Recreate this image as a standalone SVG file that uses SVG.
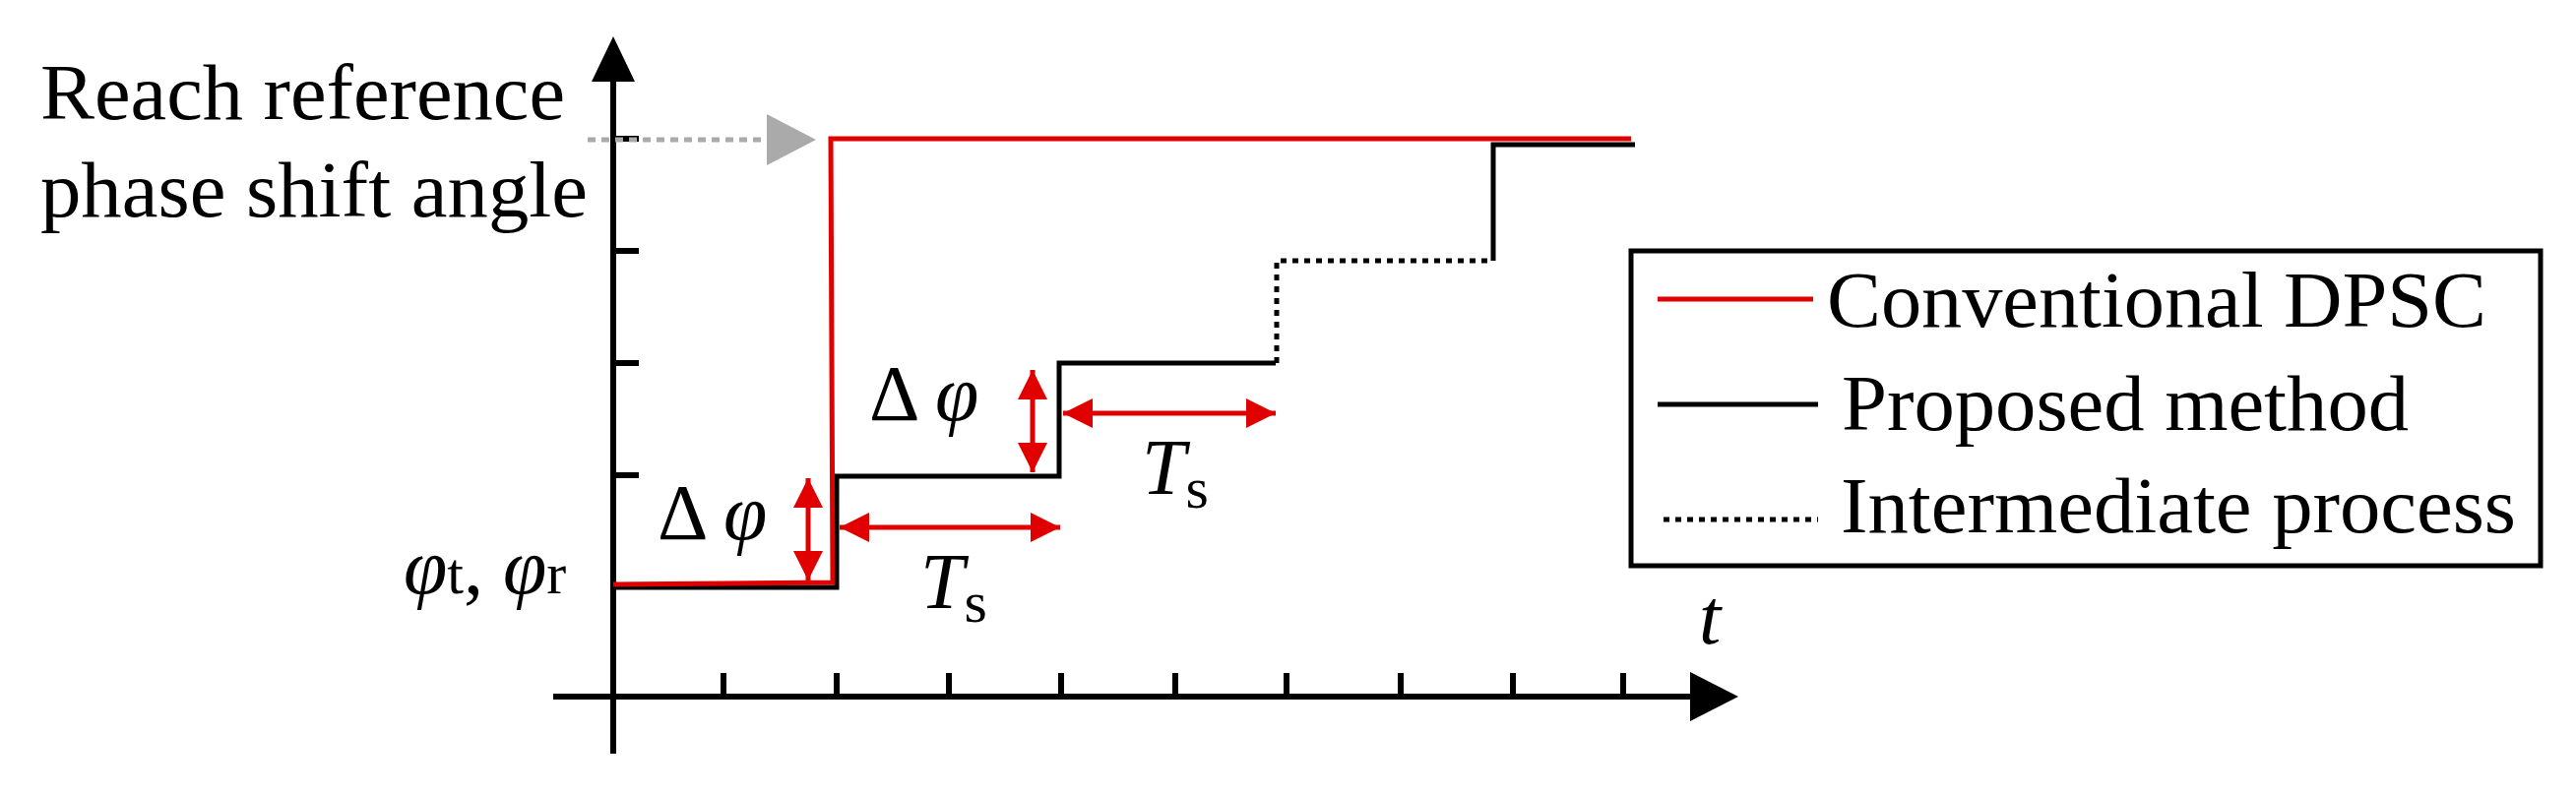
<svg xmlns="http://www.w3.org/2000/svg" width="2617" height="807" viewBox="0 0 2617 807">
<style>
text{font-family:"Liberation Serif","Times New Roman",serif;fill:#000}
.lbl{font-size:80px}
.it{font-style:italic}
.ax{stroke:#000;stroke-width:6;fill:none}
.red{stroke:#e00000;stroke-width:5;fill:none}
.blk{stroke:#000;stroke-width:5;fill:none}
.dot{stroke:#000;stroke-width:5;fill:none;stroke-dasharray:6 6}
</style>
<defs>
<marker id="ra" viewBox="0 0 10 10" refX="10" refY="5" markerWidth="6" markerHeight="6" orient="auto-start-reverse"><path d="M0,0L10,5L0,10z" fill="#e00000"/></marker>
</defs>
<rect width="2617" height="807" fill="#fff"/>
<g id="axes">
<line class="ax" x1="623" y1="766" x2="623" y2="80"/>
<polygon points="623,37 601,83 645,83" fill="#000"/>
<line class="ax" x1="562" y1="708" x2="1720" y2="708"/>
<polygon points="1766,708 1717,683 1717,733" fill="#000"/>
<g class="ax">
<line x1="735" y1="684" x2="735" y2="708"/><line x1="850" y1="684" x2="850" y2="708"/>
<line x1="964" y1="684" x2="964" y2="708"/><line x1="1078" y1="684" x2="1078" y2="708"/>
<line x1="1194" y1="684" x2="1194" y2="708"/><line x1="1307" y1="684" x2="1307" y2="708"/>
<line x1="1423" y1="684" x2="1423" y2="708"/><line x1="1537" y1="684" x2="1537" y2="708"/>
<line x1="1649" y1="684" x2="1649" y2="708"/>
<line x1="623" y1="141" x2="649" y2="141"/><line x1="623" y1="255" x2="649" y2="255"/>
<line x1="623" y1="369" x2="649" y2="369"/><line x1="623" y1="483" x2="649" y2="483"/>
</g>
</g>
<g id="curves">
<polyline class="blk" points="623,597 850,597 850,484 1076,484 1076,369 1296,369"/>
<polyline class="dot" points="1297,369 1297,265 1517,265"/>
<polyline class="blk" points="1517,265 1517,147 1661,147"/>
<polyline class="red" points="623,594 846,592 844,141 1657,141"/>
<line x1="597" y1="142" x2="780" y2="142" stroke="#aaa" stroke-width="5" stroke-dasharray="8 6"/>
<polygon points="829,142 779,116 779,168" fill="#aaa"/>
</g>
<g id="connectors">
<line class="red" stroke-width="3" x1="821" y1="486" x2="821" y2="590" marker-start="url(#ra)" marker-end="url(#ra)"/>
<line class="red" stroke-width="3" x1="853" y1="536" x2="1077" y2="536" marker-start="url(#ra)" marker-end="url(#ra)"/>
<line class="red" stroke-width="3" x1="1049" y1="376" x2="1049" y2="480" marker-start="url(#ra)" marker-end="url(#ra)"/>
<line class="red" stroke-width="3" x1="1080" y1="420" x2="1296" y2="420" marker-start="url(#ra)" marker-end="url(#ra)"/>
</g>
<g id="labels">
<text class="lbl" x="41" y="121" textLength="533" lengthAdjust="spacingAndGlyphs">Reach reference</text>
<text class="lbl" x="41" y="220" textLength="556" lengthAdjust="spacingAndGlyphs">phase shift angle</text>
<text class="lbl" x="410" y="603"><tspan class="it">φ</tspan><tspan font-size="60">t</tspan>, <tspan class="it">φ</tspan><tspan font-size="60">r</tspan></text>
<text class="lbl" x="668" y="548">Δ <tspan class="it">φ</tspan></text>
<text class="lbl" x="883" y="427">Δ <tspan class="it">φ</tspan></text>
<text class="lbl" x="935" y="618" font-size="90"><tspan class="it">T</tspan><tspan font-size="60" dy="14">s</tspan></text>
<text class="lbl" x="1160" y="502" font-size="90"><tspan class="it">T</tspan><tspan font-size="60" dy="14">s</tspan></text>
<text class="lbl it" x="1726" y="654">t</text>
</g>
<g id="legend">
<rect x="1657" y="255" width="924" height="320" fill="none" stroke="#000" stroke-width="5"/>
<line x1="1684" y1="304" x2="1842" y2="304" stroke="#e00000" stroke-width="5"/>
<line x1="1684" y1="411" x2="1847" y2="411" stroke="#000" stroke-width="5"/>
<line x1="1690" y1="528" x2="1847" y2="528" class="dot"/>
<text class="lbl" x="1856" y="332" textLength="670" lengthAdjust="spacingAndGlyphs">Conventional DPSC</text>
<text class="lbl" x="1871" y="437" textLength="576" lengthAdjust="spacingAndGlyphs">Proposed method</text>
<text class="lbl" x="1870" y="541" textLength="686" lengthAdjust="spacingAndGlyphs">Intermediate process</text>
</g>
</svg>
